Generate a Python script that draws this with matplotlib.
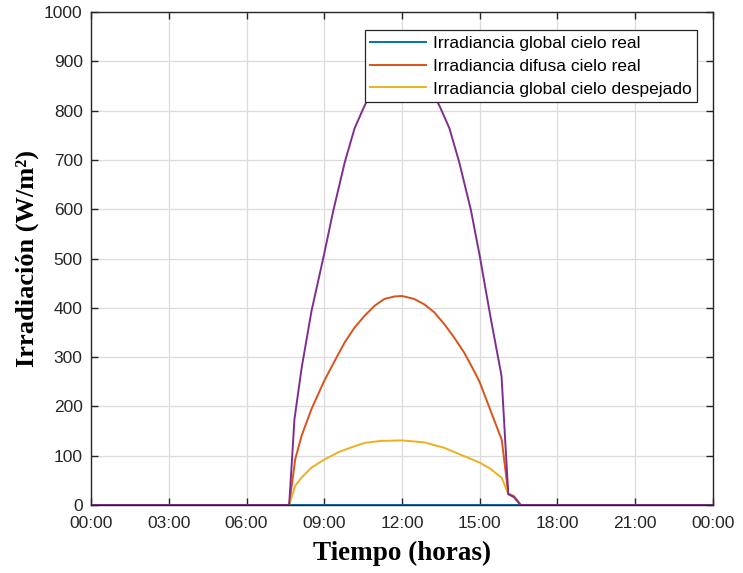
import numpy as np
import matplotlib
matplotlib.use("Agg")
import matplotlib.pyplot as plt

# time in hours, values in W/m2
t_global = [0.0, 24.0]
global_real = [0.0, 0.0]

t_difusa = [0.0, 7.646, 7.88, 8.13, 8.51, 9.0, 9.41, 9.79, 10.17, 10.56, 10.94,
            11.32, 11.71, 12.0, 12.47, 12.86, 13.24, 13.63, 14.01, 14.4, 14.78,
            15.0, 15.42, 15.85, 16.1, 16.32, 16.58, 24.0]
difusa_real = [0, 0, 93, 141, 195, 252, 293, 330, 360, 384, 404,
               418, 423, 424, 418, 407, 391, 367, 340, 309, 272,
               249, 191, 132, 23, 18, 0, 0]

t_desp = [0.0, 7.646, 7.88, 8.13, 8.51, 9.0, 9.54, 10.05, 10.56, 11.2, 12.0,
          12.86, 13.63, 14.4, 15.0, 15.42, 15.85, 16.1, 16.32, 16.58, 24.0]
global_despejado = [0, 0, 39, 56, 76, 92, 107, 117, 126, 130, 131,
                    127, 116, 99, 86, 73, 55, 22, 16, 0, 0]

t_clear = [0.0, 7.646, 7.85, 8.13, 8.51, 9.0, 9.34, 9.79, 10.17, 10.53, 11.0,
           11.5, 12.0, 12.5, 13.0, 13.47, 13.83, 14.21, 14.66, 15.0, 15.42,
           15.84, 16.10, 16.32, 16.58, 24.0]
cielo_despejado_total = [0, 0, 174, 279, 394, 510, 595, 695, 764, 807, 857,
                         893, 908, 893, 857, 807, 764, 695, 598, 505, 380,
                         262, 22, 16, 0, 0]

xticks = [0, 3, 6, 9, 12, 15, 18, 21, 24]
xticklabels = ["00:00", "03:00", "06:00", "09:00", "12:00", "15:00",
               "18:00", "21:00", "00:00"]

plt.rcParams['font.family'] = ['Liberation Sans', 'DejaVu Sans']

fig = plt.figure(figsize=(7.43, 5.73), dpi=100)
ax = fig.add_axes([0.1225, 0.1187, 0.8371, 0.8603])

lw = 1.4
ax.plot(t_global, global_real, color='#0072BD', lw=lw, label='Irradiancia global cielo real')
ax.plot(t_difusa, difusa_real, color='#D95319', lw=lw, label='Irradiancia difusa cielo real')
ax.plot(t_desp, global_despejado, color='#EDB120', lw=lw, label='Irradiancia global cielo despejado')
ax.plot(t_clear, cielo_despejado_total, color='#7E2F8E', lw=lw, label='_nolegend_')

ax.set_xlim(0, 24)
ax.set_ylim(0, 1000)
ax.set_xticks(xticks)
ax.set_xticklabels(xticklabels)
ax.set_yticks(np.arange(0, 1001, 100))
ax.grid(True, color='#dcdcdc', lw=0.9)
ax.tick_params(direction='in', top=True, right=True, labelsize=12.5,
               colors='#262626', length=5, width=1, pad=6)
ax.tick_params(axis='x', pad=8)
for s in ax.spines.values():
    s.set_color('#262626')
    s.set_linewidth(1)

ax.set_xlabel('Tiempo (horas)', family='Liberation Serif', weight='bold',
              fontsize=19.5, labelpad=7)
ax.set_ylabel('Irradiación (W/m²)', family='Liberation Serif', weight='bold',
              fontsize=19, labelpad=4)

leg = ax.legend(loc='upper right', bbox_to_anchor=(0.974, 0.963), borderaxespad=0,
                fontsize=12.5, handlelength=3.2, fancybox=False, framealpha=1,
                borderpad=0.3, labelspacing=0.45, handletextpad=0.4)
leg.get_frame().set_edgecolor('#262626')
leg.get_frame().set_linewidth(0.9)

fig.savefig('out.png', dpi=100)
